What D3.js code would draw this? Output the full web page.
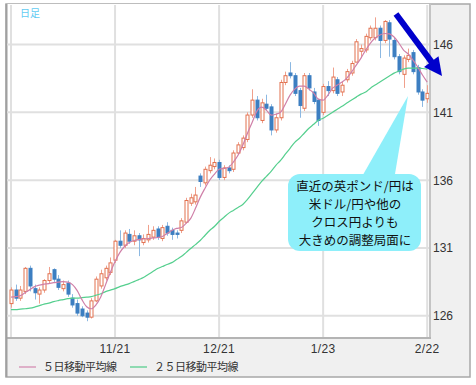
<!DOCTYPE html>
<html>
<head>
<meta charset="utf-8">
<script src="https://cdn.jsdelivr.net/npm/d3@7"></script>
<style>
  body { margin: 0; background: #fff; }
  text { font-family: "Liberation Sans", Arial, sans-serif; }
  .jp { font-family: "Noto Sans CJK JP", sans-serif; }
</style>
</head>
<body>
<svg id="chart" width="476" height="385"></svg>
<script>
// daily candles (index 0 .. 88)
var open = [126.9,127.9,127.3,127.8,129.5,128.0,127.6,127.9,128.6,129.4,128.7,128.0,128.4,127.3,126.9,126.5,126.2,125.9,127.1,128.2,128.8,129.2,130.1,
  131.5,131.2,132.0,131.5,131.9,131.4,131.6,131.8,132.4,131.7,132.6,132.3,132.1,132.3,132.9,134.3,134.4,136.3,135.8,136.7,137.0,137.3,
  136.2,136.9,136.8,138.0,138.4,139.0,140.8,141.9,140.4,141.6,141.4,139.7,140.6,143.2,143.9,143.7,142.6,141.3,143.7,142.5,141.9,
  141.0,142.9,142.6,143.4,142.5,143.4,143.9,144.7,145.5,145.6,146.5,146.5,147.2,146.3,147.6,146.3,145.1,143.8,144.9,145.4,144.3,142.5,142.0];
var high = [128.1,128.3,128.2,129.6,129.7,128.3,128.1,128.7,129.6,129.5,129.0,128.6,128.6,127.6,127.2,126.7,126.4,127.3,128.9,129.4,129.7,130.3,131.6,
  132.3,132.3,132.4,132.3,132.1,132.0,132.7,132.6,132.6,132.7,132.9,132.5,132.3,133.2,134.7,135.0,135.5,136.5,137.0,137.7,137.6,137.5,
  137.1,137.1,138.2,138.8,139.3,141.0,142.7,142.2,142.0,142.3,141.6,140.9,143.4,144.0,144.7,143.9,142.8,143.9,143.9,142.8,142.0,
  143.1,143.3,144.3,143.6,143.3,144.2,144.8,146.4,146.0,146.8,147.4,148.0,147.4,147.8,147.8,146.5,145.3,145.2,145.7,145.6,144.5,142.7,143.0];
var low = [126.6,127.1,127.1,127.6,127.8,127.2,126.9,127.7,128.4,128.5,127.9,127.8,127.4,126.6,126.0,125.9,125.6,125.8,127.0,128.0,128.6,129.0,129.9,
  131.0,131.0,131.3,131.2,130.4,131.2,131.4,131.6,131.6,131.5,131.9,131.6,131.7,132.1,132.8,134.1,134.2,135.5,135.6,136.5,136.8,136.0,
  136.0,136.5,136.6,137.9,138.2,138.8,140.6,140.4,140.2,141.1,139.3,139.5,140.4,143.0,143.5,142.2,140.6,141.1,142.6,141.6,140.0,
  140.8,142.2,142.4,142.2,142.2,143.2,143.7,144.7,145.0,145.4,146.3,146.3,145.0,146.1,145.1,144.9,143.8,142.8,144.7,143.8,142.3,141.4,141.7];
var close = [127.9,127.3,127.9,129.5,128.2,127.7,127.9,128.6,129.1,128.7,128.1,128.3,127.6,126.8,126.2,126.0,125.9,127.1,128.7,129.1,129.5,129.9,131.5,
  131.2,132.1,131.5,131.9,131.6,131.7,132.0,132.3,131.8,132.5,132.1,132.0,132.0,133.0,134.5,134.7,134.9,135.9,136.8,137.1,137.3,136.2,
  136.9,136.7,138.0,138.6,139.1,140.8,141.9,140.6,141.7,141.3,139.7,140.6,143.2,143.7,143.7,142.4,141.5,143.7,142.8,141.8,140.4,
  142.9,142.6,143.6,142.4,143.0,144.0,144.6,146.2,145.7,146.6,147.2,147.2,146.3,147.7,146.4,145.1,144.0,145.0,145.2,144.0,142.5,141.9,142.4];

// moving averages as drawn on the chart
var ma5 = [127.37,127.41,127.49,127.71,127.93,128.15,128.26,128.34,128.37,128.45,128.48,128.52,128.48,128.30,127.86,127.19,126.67,126.52,126.82,127.41,128.30,129.19,130.00,
  130.66,131.11,131.40,131.55,131.62,131.66,131.70,131.74,131.77,131.85,132.07,132.29,132.44,132.51,132.81,133.18,133.92,134.73,135.39,135.99,136.43,136.80,
  136.87,136.95,137.32,137.83,138.57,139.46,140.27,141.09,141.38,141.16,140.79,140.86,141.01,141.60,142.27,142.71,142.93,142.93,142.71,142.42,141.97,
  141.90,142.27,142.78,143.01,143.23,143.52,143.97,144.48,145.00,145.59,146.11,146.48,146.70,146.81,146.78,146.55,146.11,145.59,145.30,144.85,144.34,143.75,143.23];
var ma25 = [126.45,126.45,126.49,126.52,126.56,126.64,126.75,126.86,126.93,127.04,127.12,127.19,127.26,127.30,127.30,127.34,127.37,127.41,127.52,127.63,127.78,127.89,128.00,
  128.15,128.26,128.37,128.52,128.67,128.82,129.04,129.26,129.48,129.63,129.78,129.92,130.15,130.37,130.66,130.96,131.25,131.55,131.92,132.29,132.58,132.95,
  133.25,133.55,133.77,133.99,134.21,134.58,135.02,135.47,135.91,136.28,136.65,137.09,137.46,137.91,138.35,138.79,139.09,139.46,139.83,140.12,140.42,
  140.57,140.79,141.01,141.23,141.45,141.68,141.90,142.12,142.34,142.49,142.78,143.01,143.23,143.45,143.67,143.89,144.04,144.19,144.26,144.26,144.26,144.23,144.19];

var xTickIdx = [22, 44, 66, 88];
var xTickLabels = ["11/21", "12/21", "1/23", "2/22"];
var gridIdx = [0, 22, 44, 66, 88];
var yTicks = [126, 131, 136, 141, 146];
var legendNames = ["５日移動平均線", "２５日移動平均線"];
var noteLines = ["直近の英ポンド/円は", "米ドル/円や他の", "クロス円よりも", "大きめの調整局面に"];

var svg = d3.select("#chart");
var plotL = 7, plotR = 430, plotT = 4, plotB = 338;

var x = d3.scaleLinear().domain([0, 88]).range([11, 427.2]);
var y = d3.scaleLinear().domain([126, 146]).range([315.8, 44.5]);

// frame and panels
svg.append("rect").attr("x", 6).attr("y", 4).attr("width", 464).attr("height", 373)
  .attr("fill", "#f0f0f0").attr("stroke", "#a8a8a8").attr("stroke-width", 1.5);
svg.append("rect").attr("x", plotL).attr("y", plotT).attr("width", plotR - plotL).attr("height", plotB - plotT)
  .attr("fill", "#fff");
svg.append("line").attr("x1", plotR).attr("x2", plotR).attr("y1", plotT).attr("y2", plotB + 1)
  .attr("stroke", "#c4c4c4").attr("stroke-width", 2);
svg.append("line").attr("x1", plotL).attr("x2", plotR + 1).attr("y1", plotB).attr("y2", plotB)
  .attr("stroke", "#b4b4b4").attr("stroke-width", 2);
svg.append("line").attr("x1", 6.5).attr("x2", 6.5).attr("y1", 4).attr("y2", 377)
  .attr("stroke", "#a0a0a0").attr("stroke-width", 2);

svg.append("clipPath").attr("id", "clip").append("rect")
  .attr("x", plotL).attr("y", plotT + 1).attr("width", plotR - plotL - 1).attr("height", plotB - plotT - 2);

var g = svg.append("g").attr("clip-path", "url(#clip)");

// grid
g.selectAll(".hg").data(yTicks).enter().append("line")
  .attr("x1", plotL).attr("x2", plotR).attr("y1", function (d) { return y(d); }).attr("y2", function (d) { return y(d); })
  .attr("stroke", "#e0e0e0").attr("stroke-width", 2);
g.selectAll(".vg").data(gridIdx).enter().append("line")
  .attr("x1", function (d) { return x(d); }).attr("x2", function (d) { return x(d); })
  .attr("y1", plotT).attr("y2", plotB)
  .attr("stroke", "#e0e0e0").attr("stroke-width", 2);

// candles
var idx = d3.range(open.length);
g.selectAll(".wick").data(idx).enter().append("line")
  .attr("x1", function (i) { return Math.round(x(i)) + 0.5; })
  .attr("x2", function (i) { return Math.round(x(i)) + 0.5; })
  .attr("y1", function (i) { return y(high[i]); })
  .attr("y2", function (i) { return y(low[i]); })
  .attr("stroke", function (i) { return close[i] >= open[i] ? "#f0a08c" : "#8cb8e2"; })
  .attr("stroke-width", 1);

g.selectAll(".body").data(idx).enter().append("rect")
  .attr("x", function (i) { return Math.round(x(i)) - 1; })
  .attr("y", function (i) { return y(Math.max(open[i], close[i])); })
  .attr("width", 3)
  .attr("height", function (i) { return Math.max(1, Math.abs(y(open[i]) - y(close[i]))); })
  .attr("fill", function (i) { return close[i] >= open[i] ? "#fff" : "#3d7fc1"; })
  .attr("stroke", function (i) { return close[i] >= open[i] ? "#e2714f" : "#3d7fc1"; })
  .attr("stroke-width", 1);

// moving averages
var line = function (arr) {
  return d3.line().x(function (d, i) { return x(i); }).y(function (d) { return y(d); }).curve(d3.curveMonotoneX)(arr);
};
g.append("path").attr("d", line(ma25)).attr("fill", "none").attr("stroke", "#55cf8e").attr("stroke-width", 1.2);
g.append("path").attr("d", line(ma5)).attr("fill", "none").attr("stroke", "#cf7fa8").attr("stroke-width", 1.2);

// 日足 label
svg.append("text").attr("class", "jp").attr("x", 20).attr("y", 17)
  .style("font-size", "10px").style("fill", "#62cbf2").text("日足");

// y labels
svg.selectAll(".yl").data(yTicks).enter().append("text")
  .attr("x", 433).attr("y", function (d) { return y(d) + 4.5; })
  .style("font-size", "12px").style("fill", "#333").text(function (d) { return d; });

// x labels
svg.selectAll(".xl").data(xTickIdx).enter().append("text")
  .attr("x", function (d) { return x(d); }).attr("y", 353)
  .attr("text-anchor", "middle")
  .style("font-size", "12px").style("fill", "#333").style("letter-spacing", "0.4px")
  .text(function (d, i) { return xTickLabels[i]; });

// legend
var legX = [19, 130], legCol = ["#d99bbb", "#6ed39c"];
legendNames.forEach(function (name, i) {
  svg.append("line").attr("x1", legX[i]).attr("x2", legX[i] + 17).attr("y1", 367).attr("y2", 367)
    .attr("stroke", legCol[i]).attr("stroke-width", 1.5);
  svg.append("text").attr("class", "jp").attr("x", legX[i] + 24).attr("y", 371)
    .style("font-size", "11px").style("fill", "#333").style("letter-spacing", "-0.5px").text(name);
});

// arrow
var ax0 = 396, ay0 = 14, ax1 = 442, ay1 = 76;
var len = Math.hypot(ax1 - ax0, ay1 - ay0), ux = (ax1 - ax0) / len, uy = (ay1 - ay0) / len;
var hl = 18, hw = 9;
var bx = ax1 - ux * hl, by = ay1 - uy * hl;
svg.append("line").attr("x1", ax0).attr("y1", ay0).attr("x2", bx + ux * 2).attr("y2", by + uy * 2)
  .attr("stroke", "#0000cc").attr("stroke-width", 6);
svg.append("polygon")
  .attr("points", [[ax1, ay1], [bx - uy * hw, by + ux * hw], [bx + uy * hw, by - ux * hw]].join(" "))
  .attr("fill", "#0000cc");

// callout bubble
svg.append("polygon").attr("points", "408,96 360,180 394,180").attr("fill", "#8eeffa");
svg.append("rect").attr("x", 288).attr("y", 174).attr("width", 133).attr("height", 77).attr("rx", 12)
  .attr("fill", "#8eeffa");
svg.selectAll(".note").data(noteLines).enter().append("text").attr("class", "jp")
  .attr("x", 355).attr("y", function (d, i) { return 191 + i * 18; })
  .attr("text-anchor", "middle")
  .style("font-size", "12.5px").style("fill", "#111").text(function (d) { return d; });
</script>
</body>
</html>
